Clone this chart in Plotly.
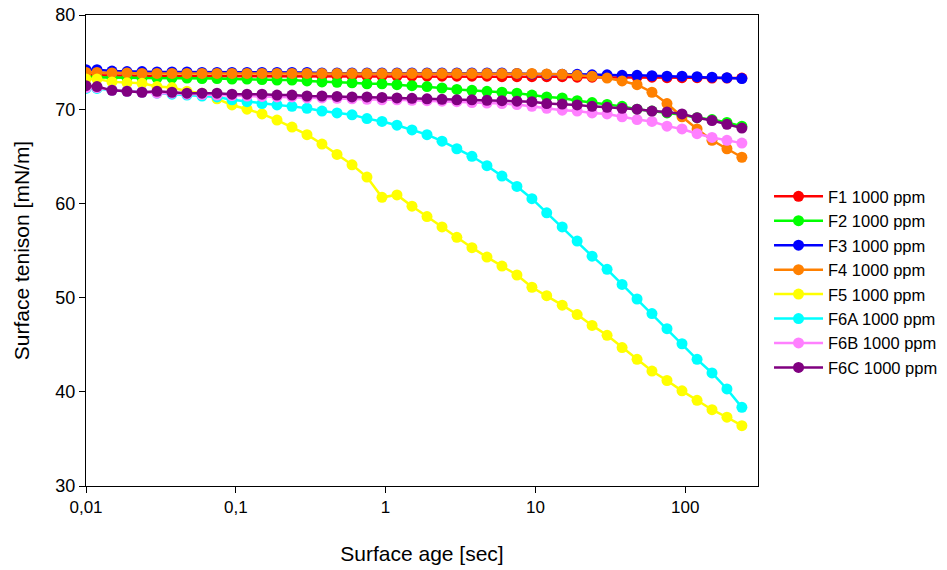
import plotly.graph_objects as go

# Surface age [sec]
age = [0.0100, 0.01184, 0.01491, 0.01878, 0.02365, 0.02978, 0.0375, 0.0472, 0.0595, 0.0749,
       0.0943, 0.1188, 0.1496, 0.1884, 0.2372, 0.2987, 0.376, 0.474, 0.597, 0.751,
       0.946, 1.191, 1.50, 1.89, 2.38, 2.99, 3.77, 4.75, 5.98, 7.53,
       9.48, 11.9, 15.1, 19.0, 23.9, 30.1, 37.9, 47.7, 60.0, 75.6,
       95.2, 120, 151, 190, 239]

f1 = [73.6, 73.6, 73.55, 73.55, 73.55, 73.5, 73.5, 73.5, 73.5, 73.5,
      73.5, 73.5, 73.5, 73.5, 73.5, 73.5, 73.5, 73.5, 73.5, 73.5,
      73.5, 73.5, 73.5, 73.5, 73.5, 73.5, 73.5, 73.5, 73.45, 73.45,
      73.45, 73.45, 73.45, 73.4, 73.4, 73.4, 73.4, 73.4, 73.4, 73.35,
      73.35, 73.35, 73.3, 73.3, 73.3]
f2 = [73.4, 73.4, 73.35, 73.35, 73.3, 73.3, 73.3, 73.3, 73.25, 73.25,
      73.2, 73.2, 73.15, 73.1, 73.1, 73.0, 72.9, 72.85, 72.8, 72.7,
      72.7, 72.6, 72.5, 72.4, 72.25, 72.1, 72.0, 71.9, 71.8, 71.7,
      71.5, 71.3, 71.2, 70.9, 70.7, 70.5, 70.3, 70.0, 69.8, 69.6,
      69.4, 69.1, 68.9, 68.6, 68.2]
f3 = [74.2, 74.2, 74.05, 74.0, 74.0, 73.95, 73.95, 73.95, 73.9, 73.9,
      73.9, 73.9, 73.9, 73.9, 73.9, 73.9, 73.85, 73.85, 73.85, 73.85,
      73.85, 73.85, 73.85, 73.85, 73.85, 73.85, 73.85, 73.85, 73.85, 73.8,
      73.75, 73.7, 73.7, 73.7, 73.65, 73.65, 73.6, 73.6, 73.55, 73.5,
      73.5, 73.45, 73.4, 73.35, 73.25]
f4 = [73.9, 73.9, 73.85, 73.85, 73.8, 73.8, 73.8, 73.8, 73.8, 73.8,
      73.8, 73.8, 73.8, 73.8, 73.8, 73.8, 73.8, 73.8, 73.8, 73.8,
      73.8, 73.8, 73.8, 73.8, 73.8, 73.8, 73.8, 73.8, 73.8, 73.8,
      73.8, 73.75, 73.7, 73.6, 73.5, 73.3, 73.0, 72.6, 71.8, 70.6,
      69.2, 67.9, 66.7, 65.8, 64.9]
f5 = [73.2, 73.2, 72.9, 72.8, 72.75, 72.4, 72.3, 71.9, 71.7, 71.1,
      70.45, 70.0, 69.5, 68.85, 68.1, 67.3, 66.3, 65.2, 64.1, 62.8,
      60.65, 60.9, 59.7, 58.6, 57.5, 56.4, 55.3, 54.3, 53.35, 52.4,
      51.1, 50.2, 49.2, 48.2, 47.05, 46.0, 44.7, 43.45, 42.2, 41.2,
      40.1, 39.1, 38.1, 37.3, 36.4]
f6a = [72.2, 72.2, 72.0, 71.9, 71.8, 71.7, 71.6, 71.5, 71.4, 71.3,
       71.0, 70.8, 70.6, 70.45, 70.3, 70.1, 69.8, 69.6, 69.4, 69.0,
       68.7, 68.3, 67.8, 67.3, 66.6, 65.8, 65.0, 64.0, 62.9, 61.8,
       60.5, 59.0, 57.5, 56.0, 54.4, 53.0, 51.4, 49.85, 48.3, 46.7,
       45.1, 43.45, 42.0, 40.3, 38.35]
f6b = [72.3, 72.3, 72.0, 71.9, 71.8, 71.7, 71.7, 71.6, 71.55, 71.5,
       71.45, 71.4, 71.35, 71.3, 71.3, 71.2, 71.2, 71.15, 71.1, 71.05,
       71.0, 71.0, 70.95, 70.9, 70.85, 70.8, 70.7, 70.65, 70.6, 70.5,
       70.3, 70.1, 69.9, 69.8, 69.6, 69.5, 69.2, 68.9, 68.7, 68.2,
       67.9, 67.4, 67.0, 66.7, 66.4]
f6c = [72.5, 72.4, 72.0, 71.9, 71.8, 71.9, 71.8, 71.7, 71.7, 71.7,
       71.6, 71.6, 71.6, 71.5, 71.5, 71.4, 71.4, 71.35, 71.3, 71.3,
       71.25, 71.2, 71.15, 71.1, 71.05, 71.0, 71.0, 70.95, 70.9, 70.85,
       70.8, 70.6, 70.55, 70.45, 70.3, 70.2, 70.1, 70.0, 69.8, 69.7,
       69.5, 69.1, 68.8, 68.4, 68.0]

names = ["F1 1000 ppm", "F2 1000 ppm", "F3 1000 ppm", "F4 1000 ppm",
         "F5 1000 ppm", "F6A 1000 ppm", "F6B 1000 ppm", "F6C 1000 ppm"]
series = [f1, f2, f3, f4, f5, f6a, f6b, f6c]
colors = ["#FF0000", "#00FF00", "#0000FF", "#FF8000",
          "#FFFF00", "#00FFFF", "#FF80FF", "#800080"]

x_tickvals = [0.01, 0.1, 1, 10, 100]
x_ticktext = ["0,01", "0,1", "1", "10", "100"]
y_tickvals = [30, 40, 50, 60, 70, 80]

fig = go.Figure()
for name, ys, c in zip(names, series, colors):
    fig.add_trace(go.Scatter(
        x=age, y=ys, name=name, mode="lines+markers",
        line=dict(color=c, width=2.5),
        marker=dict(color=c, size=11, line=dict(width=0)),
    ))

font = "Liberation Sans, Arial, sans-serif"
fig.update_layout(
    width=947, height=570,
    margin=dict(l=86, r=189, t=15, b=84, autoexpand=False),
    paper_bgcolor="white", plot_bgcolor="white",
    font=dict(family=font, size=17, color="black"),
    showlegend=True,
    legend=dict(x=1.0164, xanchor="left", y=0.433, yanchor="middle",
                font=dict(size=16.5), tracegroupgap=0, itemwidth=49,
                bgcolor="rgba(0,0,0,0)"),
    xaxis=dict(type="log", range=[-2, 2.486], automargin=False,
               tickvals=x_tickvals, ticktext=x_ticktext,
               ticks="outside", ticklen=6, tickwidth=1, tickcolor="black",
               showline=True, linecolor="black", linewidth=1, mirror=True,
               showgrid=False, zeroline=False,
               tickfont=dict(size=17),
               title=dict(text="Surface age [sec]", font=dict(size=21), standoff=29)),
    yaxis=dict(range=[30, 80], tickvals=y_tickvals, automargin=False,
               ticks="outside", ticklen=6, tickwidth=1, tickcolor="black",
               showline=True, linecolor="black", linewidth=1, mirror=True,
               showgrid=False, zeroline=False,
               tickfont=dict(size=18),
               title=dict(text="Surface tenison [mN/m]", font=dict(size=21), standoff=20)),
)

fig.write_html("out.html",
               config={"displayModeBar": False},
               post_script="document.body.style.margin='0';document.body.style.padding='0';")
